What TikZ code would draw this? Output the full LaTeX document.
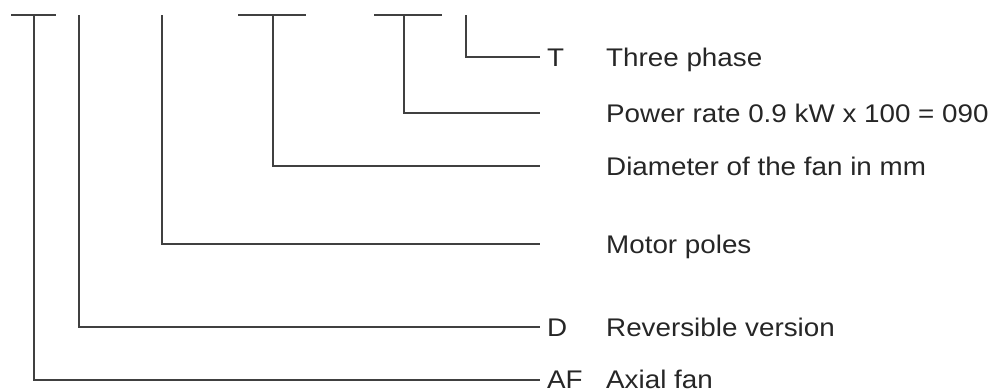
\documentclass[tikz,border=0pt]{standalone}
\usepackage{fontspec}
\setmainfont[FakeStretch=1.09]{Liberation Sans}
\begin{document}
\begin{tikzpicture}[x=1pt,y=-1pt,
  conn/.style={draw=black!75,line width=1.4pt},
  code/.style={anchor=base west,inner sep=0pt,text=black!85,font=\fontsize{25.5}{30}\selectfont},
  desc/.style={anchor=base west,inner sep=0pt,text=black!85,font=\fontsize{25.5}{30}\selectfont}]
\useasboundingbox (0,0) rectangle (1002,391);
% top ends
\coordinate (tA) at (34,15);
\coordinate (tD) at (79,15);
\coordinate (tP) at (162,15);
\coordinate (tM) at (273,15);
\coordinate (tK) at (404,15);
\coordinate (tT) at (466,15);
% line ends
\coordinate (eT) at (540,57);
\coordinate (eK) at (540,113);
\coordinate (eM) at (540,166);
\coordinate (eP) at (540,244);
\coordinate (eD) at (540,327);
\coordinate (eA) at (540,380);
% top bars
\coordinate (b1l) at (11,15); \coordinate (b1r) at (56,15);
\coordinate (b2l) at (238,15); \coordinate (b2r) at (306,15);
\coordinate (b3l) at (374,15); \coordinate (b3r) at (442,15);
\draw[conn] (b1l) -- (b1r);
\draw[conn] (b2l) -- (b2r);
\draw[conn] (b3l) -- (b3r);
% connectors
\draw[conn] (tA) |- (eA);
\draw[conn] (tD) |- (eD);
\draw[conn] (tP) |- (eP);
\draw[conn] (tM) |- (eM);
\draw[conn] (tK) |- (eK);
\draw[conn] (tT) |- (eT);
% codes
\node[code] (cT) at (547,66) {T};
\node[code] (cD) at (547,336) {D};
\node[code] (cA) at (547,388.5) {AF};
% descriptions
\node[desc] (dT) at (606,66) {Three phase};
\node[desc] (dK) at (606,122) {Power rate 0.9 kW x 100 = 090};
\node[desc] (dM) at (606,175) {Diameter of the fan in mm};
\node[desc] (dP) at (606,253) {Motor poles};
\node[desc] (dD) at (606,336) {Reversible version};
\node[desc] (dA) at (606,388.5) {Axial fan};
\end{tikzpicture}
\end{document}
